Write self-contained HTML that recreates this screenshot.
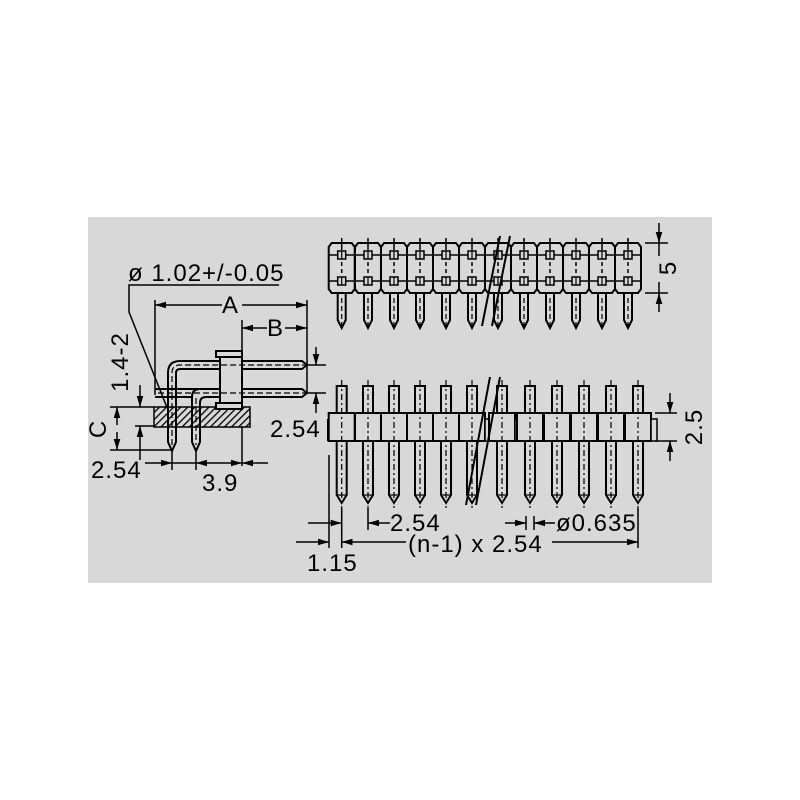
<!DOCTYPE html>
<html><head><meta charset="utf-8"><style>
html,body{margin:0;padding:0;background:#fff;}
svg{display:block;}
text{font-family:"Liberation Sans",sans-serif;font-size:24px;letter-spacing:1px;fill:#000;}
</style></head><body>
<svg width="800" height="800" viewBox="0 0 800 800" xmlns="http://www.w3.org/2000/svg">
<defs>
<marker id="ar" viewBox="0 0 10 6" refX="10" refY="3" markerWidth="11" markerHeight="7" orient="auto-start-reverse" markerUnits="userSpaceOnUse"><path d="M0,0 L10,3 L0,6 z" fill="#000"/></marker>
<pattern id="hatch" width="5" height="5" patternUnits="userSpaceOnUse" patternTransform="rotate(45)"><rect width="5" height="5" fill="#d8d8d8"/><line x1="0" y1="0" x2="0" y2="5" stroke="#000" stroke-width="2.6"/></pattern>
<g id="cell">
<path d="M-10,243 L10,243 L13,247 L13,289 L10,293 L-10,293 L-13,289 L-13,247 Z" fill="#d8d8d8" stroke="#000" stroke-width="2"/>
<line x1="0" y1="238" x2="0" y2="250" stroke="#000" stroke-width="1.5"/>
<line x1="0" y1="262" x2="0" y2="274" stroke="#000" stroke-width="1.5" stroke-dasharray="4,3"/>
<line x1="-13" y1="255" x2="13" y2="255" stroke="#000" stroke-width="1.5"/>
<line x1="-13" y1="281" x2="13" y2="281" stroke="#000" stroke-width="1.5"/>
<rect x="-4" y="251" width="8" height="8" fill="#d8d8d8" stroke="#000" stroke-width="1.5"/>
<rect x="-4" y="277" width="8" height="8" fill="#d8d8d8" stroke="#000" stroke-width="1.5"/>
<line x1="0" y1="251" x2="0" y2="259" stroke="#000" stroke-width="1.2"/>
<line x1="0" y1="277" x2="0" y2="285" stroke="#000" stroke-width="1.2"/>
<path d="M-4,293 L-4,320 L0,328 L4,320 L4,293" fill="none" stroke="#000" stroke-width="2"/>
<line x1="0" y1="298" x2="0" y2="330" stroke="#000" stroke-width="1.2" stroke-dasharray="5,3"/>
</g>
<g id="spin">
<rect x="-13" y="413" width="26" height="28" fill="#d8d8d8" stroke="#000" stroke-width="2"/>
<rect x="13" y="419" width="6" height="22" fill="#d8d8d8" stroke="#000" stroke-width="1.5"/>
<path d="M-5,413 L-5,386 L5,386 L5,413 M-5,441 L-5,495 L0,503 L5,495 L5,441" fill="none" stroke="#000" stroke-width="2"/>
<line x1="0" y1="380" x2="0" y2="508" stroke="#000" stroke-width="1.2" stroke-dasharray="6,3,2,3"/>
<line x1="-5" y1="495" x2="5" y2="495" stroke="#000" stroke-width="1.2"/>
</g>
</defs>
<rect width="800" height="800" fill="#fff"/>
<rect x="88" y="217" width="624" height="366" fill="#d8d8d8"/>

<!-- TOP VIEW -->
<use href="#cell" x="341.7"/><use href="#cell" x="368"/><use href="#cell" x="394"/><use href="#cell" x="420"/><use href="#cell" x="446"/><use href="#cell" x="472"/><use href="#cell" x="498"/><use href="#cell" x="524"/><use href="#cell" x="550"/><use href="#cell" x="576"/><use href="#cell" x="602"/><use href="#cell" x="628"/>
<line x1="482" y1="326" x2="500" y2="236" stroke="#000" stroke-width="2"/>
<line x1="492" y1="326" x2="510" y2="236" stroke="#000" stroke-width="2"/>
<!-- 5 dim -->
<line x1="645" y1="243" x2="668" y2="243" stroke="#000" stroke-width="1.5"/>
<line x1="645" y1="293" x2="668" y2="293" stroke="#000" stroke-width="1.5"/>
<line x1="659" y1="223" x2="659" y2="243" stroke="#000" stroke-width="1.5" marker-end="url(#ar)"/>
<line x1="659" y1="312" x2="659" y2="293" stroke="#000" stroke-width="1.5" marker-end="url(#ar)"/>
<line x1="659" y1="243" x2="659" y2="256" stroke="#000" stroke-width="1.5"/>
<line x1="659" y1="282" x2="659" y2="293" stroke="#000" stroke-width="1.5"/>
<text transform="translate(676,268) rotate(-90)" text-anchor="middle">5</text>

<!-- SIDE VIEW -->
<use href="#spin" x="341.7"/><use href="#spin" x="368"/><use href="#spin" x="394"/><use href="#spin" x="420"/><use href="#spin" x="446"/><use href="#spin" x="472"/><use href="#spin" x="502"/><use href="#spin" x="530"/><use href="#spin" x="557"/><use href="#spin" x="584"/><use href="#spin" x="611"/><use href="#spin" x="638"/>
<rect x="327" y="419" width="2" height="22" fill="#000"/>
<line x1="466" y1="505" x2="490" y2="377" stroke="#000" stroke-width="2"/>
<line x1="476" y1="505" x2="500" y2="377" stroke="#000" stroke-width="2"/>
<!-- 2.5 dim -->
<line x1="655" y1="413" x2="677" y2="413" stroke="#000" stroke-width="1.5"/>
<line x1="655" y1="441" x2="677" y2="441" stroke="#000" stroke-width="1.5"/>
<line x1="670" y1="393" x2="670" y2="413" stroke="#000" stroke-width="1.5" marker-end="url(#ar)"/>
<line x1="670" y1="461" x2="670" y2="441" stroke="#000" stroke-width="1.5" marker-end="url(#ar)"/>
<text transform="translate(702,427) rotate(-90)" text-anchor="middle">2.5</text>
<!-- bottom dims -->
<line x1="329" y1="455" x2="329" y2="548" stroke="#000" stroke-width="1.5"/>
<line x1="341.7" y1="508" x2="341.7" y2="548" stroke="#000" stroke-width="1.5"/>
<line x1="368" y1="508" x2="368" y2="530" stroke="#000" stroke-width="1.5"/>
<line x1="638" y1="508" x2="638" y2="548" stroke="#000" stroke-width="1.5"/>
<line x1="308" y1="523" x2="341.7" y2="523" stroke="#000" stroke-width="1.5" marker-end="url(#ar)"/>
<line x1="390" y1="523" x2="368" y2="523" stroke="#000" stroke-width="1.5" marker-end="url(#ar)"/>
<line x1="505" y1="523" x2="526" y2="523" stroke="#000" stroke-width="1.5" marker-end="url(#ar)"/>
<line x1="555" y1="523" x2="534" y2="523" stroke="#000" stroke-width="1.5" marker-end="url(#ar)"/>
<line x1="526" y1="516" x2="526" y2="530" stroke="#000" stroke-width="1.5"/>
<line x1="534" y1="516" x2="534" y2="530" stroke="#000" stroke-width="1.5"/>
<text x="390" y="531">2.54</text>
<text x="556" y="531">ø0.635</text>
<line x1="296" y1="542" x2="329" y2="542" stroke="#000" stroke-width="1.5" marker-end="url(#ar)"/>
<line x1="362" y1="542" x2="341.7" y2="542" stroke="#000" stroke-width="1.5" marker-end="url(#ar)"/>
<line x1="362" y1="542" x2="406" y2="542" stroke="#000" stroke-width="1.5"/>
<line x1="552" y1="542" x2="638" y2="542" stroke="#000" stroke-width="1.5" marker-end="url(#ar)"/>
<text x="408" y="552">(n-1) x 2.54</text>
<text x="307" y="571">1.15</text>

<!-- LEFT VIEW -->
<text x="128" y="281">ø 1.02+/-0.05</text>
<polyline points="279,285 129,285 129,312 168,410" fill="none" stroke="#000" stroke-width="1.5"/>
<line x1="155" y1="300" x2="155" y2="395" stroke="#000" stroke-width="1.5"/>
<line x1="307" y1="300" x2="307" y2="392" stroke="#000" stroke-width="1.5"/>
<line x1="222" y1="305" x2="155" y2="305" stroke="#000" stroke-width="1.5" marker-end="url(#ar)"/>
<line x1="242" y1="305" x2="307" y2="305" stroke="#000" stroke-width="1.5" marker-end="url(#ar)"/>
<text x="222" y="313">A</text>
<line x1="242" y1="320" x2="242" y2="466" stroke="#000" stroke-width="1.5"/>
<line x1="267" y1="328" x2="242" y2="328" stroke="#000" stroke-width="1.5" marker-end="url(#ar)"/>
<line x1="285" y1="328" x2="307" y2="328" stroke="#000" stroke-width="1.5" marker-end="url(#ar)"/>
<text x="267" y="336">B</text>
<rect x="154" y="407" width="96" height="20" fill="url(#hatch)" stroke="#000" stroke-width="1.5"/>
<rect x="220" y="355" width="22" height="52" fill="#d8d8d8" stroke="#000" stroke-width="2"/>
<rect x="216" y="351" width="26" height="6" fill="#d8d8d8" stroke="#000" stroke-width="2"/>
<rect x="216" y="403" width="26" height="6" fill="#d8d8d8" stroke="#000" stroke-width="2"/>
<path d="M242,361 L302,361 L307,365 L302,369 L242,369 M220,361 L180,361 Q168,361 168,373 L168,442 L172,451 L176,442 L176,373 Q176,369 180,369 L220,369" fill="none" stroke="#000" stroke-width="2"/>
<path d="M172,445 L172,373 Q172,365 180,365 L305,365" fill="none" stroke="#000" stroke-width="1.2" stroke-dasharray="6,3"/>
<path d="M242,389 L302,389 L307,393 L302,397 L242,397 M220,389 L155,389 M155,397 L192,397 L192,442 L196,451 L200,442 L200,403 Q200,397 206,397 L220,397 M192,397 Q192,389 200,389" fill="none" stroke="#000" stroke-width="2"/>
<path d="M158,393 L305,393 M196,398 L196,445" fill="none" stroke="#000" stroke-width="1.2" stroke-dasharray="6,3"/>
<line x1="307" y1="365" x2="326" y2="365" stroke="#000" stroke-width="1.5"/>
<line x1="307" y1="393" x2="326" y2="393" stroke="#000" stroke-width="1.5"/>
<line x1="316" y1="347" x2="316" y2="365" stroke="#000" stroke-width="1.5" marker-end="url(#ar)"/>
<line x1="316" y1="413" x2="316" y2="393" stroke="#000" stroke-width="1.5" marker-end="url(#ar)"/>
<text x="270" y="437">2.54</text>
<line x1="110" y1="407" x2="154" y2="407" stroke="#000" stroke-width="1.5"/>
<line x1="110" y1="450" x2="172" y2="450" stroke="#000" stroke-width="1.5"/>
<line x1="135" y1="426" x2="154" y2="426" stroke="#000" stroke-width="1.5"/>
<line x1="117" y1="425" x2="117" y2="407" stroke="#000" stroke-width="1.5" marker-end="url(#ar)"/>
<line x1="117" y1="432" x2="117" y2="450" stroke="#000" stroke-width="1.5" marker-end="url(#ar)"/>
<text transform="translate(106,429) rotate(-90)" text-anchor="middle">C</text>
<line x1="140" y1="385" x2="140" y2="407" stroke="#000" stroke-width="1.5" marker-end="url(#ar)"/>
<line x1="140" y1="460" x2="140" y2="426" stroke="#000" stroke-width="1.5" marker-end="url(#ar)"/>
<text transform="translate(128,362) rotate(-90)" text-anchor="middle">1.4-2</text>
<line x1="172" y1="452" x2="172" y2="470" stroke="#000" stroke-width="1.5"/>
<line x1="196" y1="452" x2="196" y2="470" stroke="#000" stroke-width="1.5"/>
<line x1="145" y1="463" x2="172" y2="463" stroke="#000" stroke-width="1.5" marker-end="url(#ar)"/>
<line x1="196" y1="463" x2="172" y2="463" stroke="#000" stroke-width="1.5"/>
<line x1="215" y1="463" x2="196" y2="463" stroke="#000" stroke-width="1.5" marker-end="url(#ar)"/>
<line x1="215" y1="463" x2="242" y2="463" stroke="#000" stroke-width="1.5" marker-end="url(#ar)"/>
<line x1="268" y1="463" x2="242" y2="463" stroke="#000" stroke-width="1.5" marker-end="url(#ar)"/>
<text x="91" y="478">2.54</text>
<text x="202" y="491">3.9</text>
</svg>
</body></html>
